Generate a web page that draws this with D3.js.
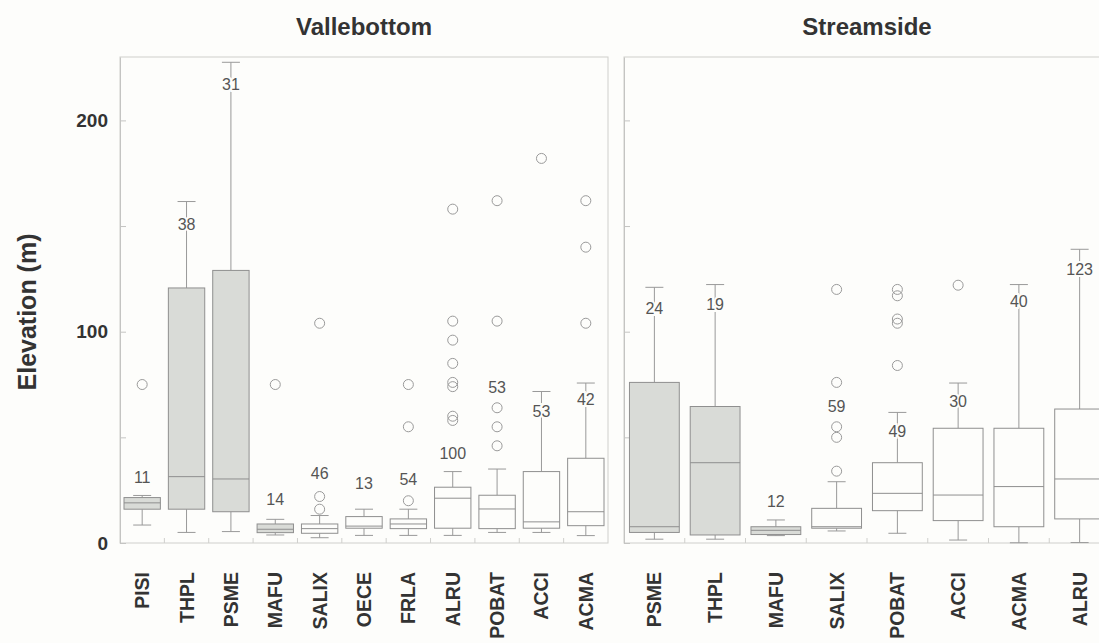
<!DOCTYPE html>
<html><head><meta charset="utf-8">
<script src="https://cdn.jsdelivr.net/npm/d3@7"></script>
<style>html,body{margin:0;padding:0;background:#fdfdfb;} svg{display:block;font-family:"Liberation Sans",Arial,sans-serif;}</style>
</head><body><svg id="chart" width="1099" height="643"></svg>
<script>
// ---- Data: Vallebottom ----
const valleCats = ["PISI","THPL","PSME","MAFU","SALIX","OECE","FRLA","ALRU","POBAT","ACCI","ACMA"];
const valleLow  = [8.5, 5, 5.4, 3.8, 2.5, 3.6, 3.6, 3.6, 5, 5, 3.5];
const valleQ1   = [16, 16, 14.8, 4.9, 4.6, 7, 6.8, 7, 6.8, 7, 8.2];
const valleMed  = [19, 31.4, 30.3, 6.5, 6.8, 8, 9, 21.2, 16.1, 10, 14.8];
const valleQ3   = [21.5, 120.7, 129, 9, 9, 12.5, 11.4, 26.4, 22.6, 33.8, 40.1];
const valleHigh = [22.5, 161.6, 227.5, 11.2, 13, 16, 16, 33.8, 35, 71.7, 75.7];
const valleN    = [11, 38, 31, 14, 46, 13, 54, 100, 53, 53, 42];
const valleNAt  = [31, 151, 217, 20.7, 33, 28.3, 30.3, 42.5, 73.8, 62.2, 67.8];
const valleOutliers = [[75],[],[],[75],[104,22,16],[],[75,55,20],[158,105,96,85,76,74,60,58],[162,105,64,55,46],[182],[162,140,104]];
const valleShaded = ["PISI","THPL","PSME","MAFU"];

// ---- Data: Streamside ----
const streamCats = ["PSME","THPL","MAFU","SALIX","POBAT","ACCI","ACMA","ALRU"];
const streamLow  = [1.8, 1.8, 3.5, 5.7, 4.6, 1.4, 0.1, 0.2];
const streamQ1   = [5, 3.8, 4, 7, 15.3, 10.6, 7.7, 11.4];
const streamMed  = [7.7, 38, 6, 7.7, 23.5, 22.7, 26.7, 30.3];
const streamQ3   = [76, 64.6, 7.7, 16.4, 38, 54.3, 54.3, 63.4];
const streamHigh = [121, 122.3, 10.9, 29, 61.8, 75.7, 122.3, 139];
const streamN    = [24, 19, 12, 59, 49, 30, 40, 123];
const streamNAt  = [111.2, 112.8, 19.9, 64.6, 52.7, 67, 114.4, 129.7];
const streamOutliers = [[],[],[],[120,76,55,50,34],[120,117,106,104,84],[122],[],[]];
const streamShaded = ["PSME","THPL","MAFU"];

const yTicks = [0, 50, 100, 150, 200];
const yLabeled = [0, 100, 200];
const yMax = 230;

// ---- Drawing ----
const W = 1099, H = 643, BG = "#fdfdfb";
const svg = d3.select("#chart");
svg.append("rect").attr("width", W).attr("height", H).attr("fill", BG);

const y = d3.scaleLinear().domain([0, yMax]).range([543, 57]);

function panel(o) {
  const x = d3.scaleBand().domain(o.cats).range([o.x0, o.x1]);
  const bw = x.bandwidth(), boxW = bw * 0.82, capW = 18;
  const g = svg.append("g");
  const frameC = "#cfcfcc", lineC = "#999", txt = "#333";

  g.append("rect").attr("x", o.x0).attr("y", y(yMax))
    .attr("width", o.x1 - o.x0).attr("height", y(0) - y(yMax))
    .attr("fill", "none").attr("stroke", frameC);

  const ga = g.append("g").attr("transform", `translate(${o.x0},0)`)
    .call(d3.axisLeft(y).tickValues(yTicks).tickSizeInner(-6).tickSizeOuter(0).tickPadding(12)
      .tickFormat(d => (o.showY && yLabeled.includes(d)) ? d : ""));
  ga.select(".domain").attr("stroke", "#c4c4c2");
  ga.selectAll(".tick line").attr("stroke", "#c4c4c2");
  ga.selectAll(".tick text").attr("font-size", 19).attr("font-weight", "bold").attr("fill", txt)
    .attr("font-family", "Liberation Sans, Arial, sans-serif");

  const gx = g.append("g").attr("transform", `translate(0,${y(0)})`)
    .call(d3.axisBottom(x).tickSize(0).tickPadding(0));
  gx.select(".domain").remove();
  gx.selectAll(".tick text")
    .attr("x", 0).attr("y", 0).attr("dy", "0.36em")
    .attr("transform", "translate(0,29) rotate(-90)")
    .attr("text-anchor", "end")
    .attr("font-size", 19.5).attr("font-weight", "bold").attr("fill", txt)
    .attr("font-family", "Liberation Sans, Arial, sans-serif");

  g.selectAll(".bnd").data(o.cats.slice(1)).join("line")
    .attr("x1", d => x(d)).attr("x2", d => x(d))
    .attr("y1", y(0)).attr("y2", y(0) - 5).attr("stroke", frameC);

  o.cats.forEach((c, i) => {
    const cx = x(c) + bw / 2;
    const bg = g.append("g");
    bg.append("line").attr("x1", cx).attr("x2", cx).attr("y1", y(o.low[i])).attr("y2", y(o.q1[i])).attr("stroke", lineC);
    bg.append("line").attr("x1", cx).attr("x2", cx).attr("y1", y(o.q3[i])).attr("y2", y(o.high[i])).attr("stroke", lineC);
    [o.low[i], o.high[i]].forEach(v => {
      bg.append("line").attr("x1", cx - capW / 2).attr("x2", cx + capW / 2)
        .attr("y1", y(v)).attr("y2", y(v)).attr("stroke", lineC);
    });
    bg.append("rect").attr("x", cx - boxW / 2).attr("width", boxW)
      .attr("y", y(o.q3[i])).attr("height", y(o.q1[i]) - y(o.q3[i]))
      .attr("fill", o.shaded.includes(c) ? "#d9dbd7" : BG).attr("stroke", "#8f8f8f");
    bg.append("line").attr("x1", cx - boxW / 2).attr("x2", cx + boxW / 2)
      .attr("y1", y(o.med[i])).attr("y2", y(o.med[i])).attr("stroke", "#8f8f8f");
    bg.selectAll("circle").data(o.outliers[i]).join("circle")
      .attr("cx", cx).attr("cy", d => y(d)).attr("r", 5)
      .attr("fill", "none").attr("stroke", "#9a9a9a");
    bg.append("text").attr("x", cx).attr("y", y(o.nAt[i])).attr("dy", "0.35em")
      .attr("text-anchor", "middle").attr("font-size", 16).attr("fill", "#555")
      .attr("stroke", BG).attr("stroke-width", 4).attr("paint-order", "stroke")
      .text(o.n[i]);
  });

  svg.append("text").attr("x", (o.x0 + o.x1) / 2).attr("y", 35)
    .attr("text-anchor", "middle").attr("font-size", 24).attr("font-weight", "bold")
    .attr("fill", txt).text(o.title);
}

panel({cats: valleCats, low: valleLow, q1: valleQ1, med: valleMed, q3: valleQ3, high: valleHigh,
  n: valleN, nAt: valleNAt, outliers: valleOutliers, shaded: valleShaded,
  x0: 120, x1: 608, title: "Vallebottom", showY: true});
panel({cats: streamCats, low: streamLow, q1: streamQ1, med: streamMed, q3: streamQ3, high: streamHigh,
  n: streamN, nAt: streamNAt, outliers: streamOutliers, shaded: streamShaded,
  x0: 624, x1: 1110, title: "Streamside", showY: false});

svg.append("text").attr("transform", "translate(36,312) rotate(-90)")
  .attr("text-anchor", "middle").attr("font-size", 25).attr("font-weight", "bold")
  .attr("fill", "#333").text("Elevation (m)");
</script>
</body></html>
